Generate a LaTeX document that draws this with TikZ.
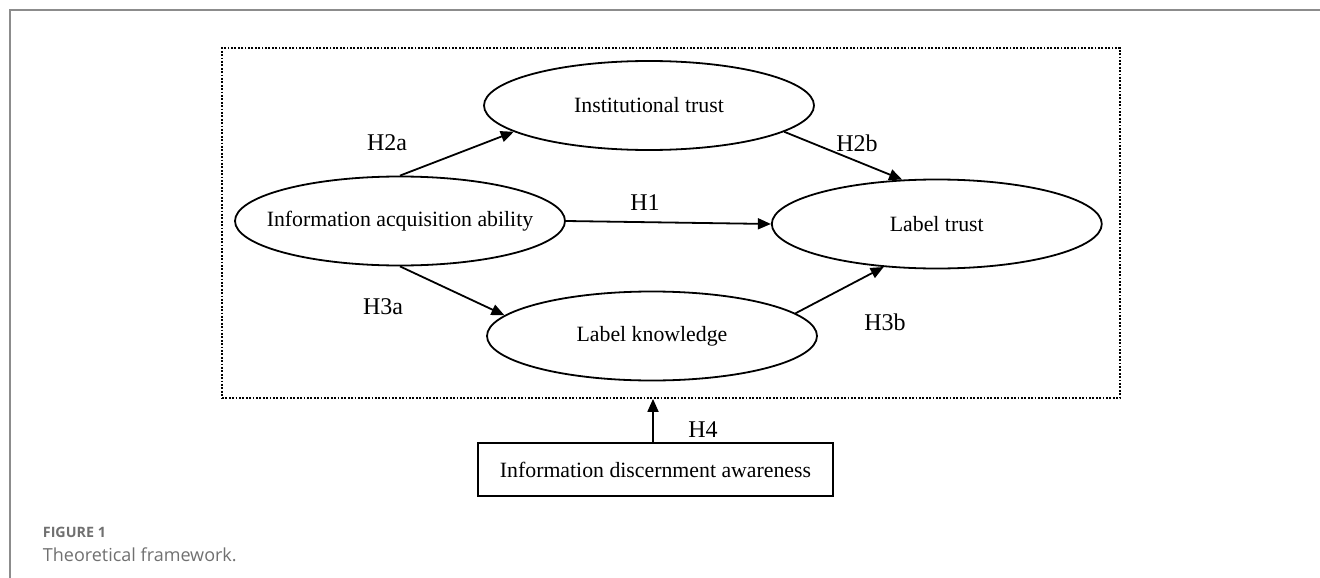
\documentclass[tikz,border=0pt]{standalone}
\usepackage{fontspec}
\setmainfont{Liberation Serif}
\newfontfamily\capfont{Open Sans}
\usetikzlibrary{arrows.meta,shapes.geometric,positioning}

\definecolor{framegrey}{HTML}{8C8C8C}
\definecolor{capgrey}{HTML}{707070}

\begin{document}
\begin{tikzpicture}[x=1pt, y=-1pt, >={Triangle[length=13pt,width=11pt]}, line width=1.8pt,
    every node/.style={font=\fontsize{21.8}{26}\selectfont, inner sep=0pt},
    latent/.style={ellipse, draw, minimum width=330pt, minimum height=89pt,
        execute at begin node={\hbox to 0pt\bgroup\hss\lower3pt\hbox\bgroup},
        execute at end node={\egroup\hss\egroup}},
    observed/.style={rectangle, draw, minimum width=355pt, minimum height=53pt},
    dotframe/.style={rectangle, draw, dash pattern=on 1.8pt off 1.6pt, minimum width=898pt, minimum height=350pt},
    hlab/.style={font=\fontsize{24}{28}\selectfont},
    arr/.style={->}]

    \useasboundingbox (0,0) rectangle (1320,578);
    \draw[framegrey, line width=2pt] (10,578) -- (10,10) -- (1320,10);

    % model
    \node[dotframe] (frame) at (671,223) {};
    \node[latent] (acq) at (400,221) {Information acquisition ability};
    \node[latent, right=205pt of acq, yshift=-3pt] (ltrust) {Label trust};
    \node[latent] (inst) at (649,105.5) {Institutional trust};
    \node[latent] (know) at (652,336) {Label knowledge};
    \node[observed] (disc) at (655.5,469.5) {Information discernment awareness};

    % paths
    \draw[arr] (acq.north) -- (inst.191);
    \draw[arr] (inst.349) -- (ltrust.128);
    \draw[arr] (acq.east) -- (ltrust.west);
    \draw[arr] (acq.south) -- (know.172);
    \draw[arr] (know.9.5) -- (ltrust.219.6);
    \draw[arr] ([xshift=-2.5pt]disc.north) -- ([xshift=-2.5pt]disc.north |- frame.south);

    % hypotheses
    \node[hlab] (h2a) at (387,143) {H2a};
    \node[hlab] (h2b) at (857,143) {H2b};
    \node[hlab] (h1) at (645,203) {H1};
    \node[hlab] (h3a) at (383,307) {H3a};
    \node[hlab] (h3b) at (885,322) {H3b};
    \node[hlab] (h4) at (703,430) {H4};

    % caption
    \node[anchor=base west, text=capgrey, font=\capfont\bfseries\fontsize{14.3}{17}\selectfont] (fignum) at (42,537) {FIGURE 1};
    \node[anchor=base west, text=capgrey, font=\capfont\fontsize{18}{22}\selectfont] (figcap) at (42,561) {Theoretical framework.};
\end{tikzpicture}
\end{document}
